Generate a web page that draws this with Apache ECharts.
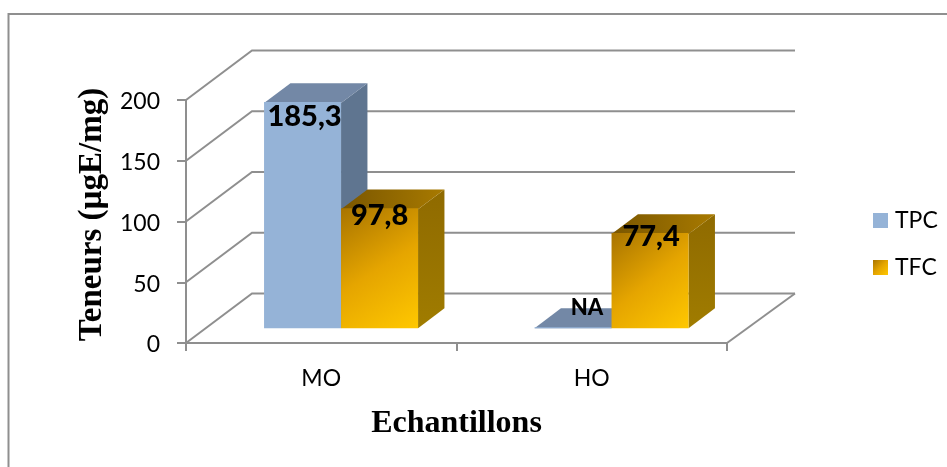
<!DOCTYPE html>
<html>
<head>
<meta charset="utf-8">
<title>Teneurs</title>
<script src="https://cdn.jsdelivr.net/npm/echarts@6/dist/echarts.min.js"></script>
<style>
html, body { margin: 0; padding: 0; background: #fff; }
#main { width: 947px; height: 467px; }
</style>
</head>
<body>
<div id="main"></div>
<script>
const categories = ['MO', 'HO'];
const tpcValues = [185.3, 0];
const tfcValues = [97.8, 77.4];
const tpcLabels = ['185,3', 'NA'];
const tfcLabels = ['97,8', '77,4'];
const yTicks = [0, 50, 100, 150, 200];

// depth of the fake 3d box, in pixels
const DEPTH_X = 66;
const DEPTH_Y = 49.5;
const WALL_COLOR = '#8f8f8f';
const BAR_RATIO = 77 / 270.5;
// bars stand at this share of the floor depth, and are this share deep
const BAR_FRONT = 0.3;
const BAR_DEEP = 0.4;

function grad(x2, y2, stops) {
	return new echarts.graphic.LinearGradient(0, 0, x2, y2, stops.map(function (c, i) {
		return { offset: i / (stops.length - 1), color: c };
	}));
}

const tfcFront = ['#a87400', '#e5a500', '#ffc800'];
const tpcFaces = { front: '#95b3d7', top: '#7388a6', side: '#5f7590' };
const tfcFaces = {
	front: grad(1, 1, tfcFront),
	top: grad(1, 0, ['#7a5600', '#a87a00']),
	side: grad(0, 1, ['#8f6a00', '#a07c00'])
};

function renderWall(params, api) {
	const rect = params.coordSys;
	const y = api.coord([0, api.value(0)])[1];
	const left = rect.x;
	const right = rect.x + rect.width;
	const points = [
		[left, y],
		[left + DEPTH_X, y - DEPTH_Y],
		[right + DEPTH_X + 2, y - DEPTH_Y]
	];
	const children = [{
		type: 'polyline',
		shape: { points: points },
		style: { stroke: WALL_COLOR, lineWidth: 2, fill: null }
	}];
	if (api.value(0) === 0) {
		children.push({
			type: 'line',
			shape: { x1: right, y1: y, x2: right + DEPTH_X + 2, y2: y - DEPTH_Y },
			style: { stroke: WALL_COLOR, lineWidth: 2 }
		});
	}
	return { type: 'group', children: children };
}

function makeBarRenderer(order, faces, labels, labelNudge, labelFont) {
	return function (params, api) {
		const cat = api.value(0);
		const band = api.size([1, 0])[0];
		const barW = band * BAR_RATIO;
		const top = api.coord([cat, api.value(1)]);
		const base = api.coord([cat, 0]);
		const sx = DEPTH_X * BAR_FRONT;
		const sy = DEPTH_Y * BAR_FRONT;
		const dx = DEPTH_X * BAR_DEEP;
		const dy = DEPTH_Y * BAR_DEEP;
		const x0 = base[0] + sx + (order - 1) * barW;
		const x1 = x0 + barW;
		const yT = top[1] - sy;
		const yB = base[1] - sy;
		return {
			type: 'group',
			children: [
				{
					type: 'polygon',
					shape: { points: [[x1, yT], [x1 + dx, yT - dy], [x1 + dx, yB - dy], [x1, yB]] },
					style: { fill: faces.side }
				},
				{
					type: 'polygon',
					shape: { points: [[x0, yT], [x0 + dx, yT - dy], [x1 + dx, yT - dy], [x1, yT]] },
					style: { fill: faces.top }
				},
				{
					type: 'rect',
					shape: { x: x0, y: yT - 1, width: barW, height: yB - yT + 1 },
					style: { fill: faces.front }
				},
				{
					type: 'text',
					style: {
						text: labels[cat],
						x: (x0 + x1) / 2 + labelNudge[cat][0],
						y: yT + labelNudge[cat][1],
						fill: '#000',
						font: labelFont[cat],
						align: 'center',
						verticalAlign: 'middle'
					}
				}
			]
		};
	};
}

const BIG = '900 29px Lato';
const SMALL = '900 22px Lato';

const option = {
	animation: false,
	backgroundColor: '#fff',
	textStyle: { fontFamily: 'Lato' },
	grid: { left: 186, right: 220, top: 100, bottom: 124 },
	legend: {
		left: 868,
		top: 204,
		orient: 'vertical',
		icon: 'rect',
		itemWidth: 15,
		itemHeight: 15,
		itemGap: 24,
		selectedMode: false,
		textStyle: { fontFamily: 'Lato', fontSize: 23, color: '#000', padding: [0, 0, 0, 2] },
		data: ['TPC', 'TFC']
	},
	graphic: [{
		type: 'rect',
		silent: true,
		shape: { x: 8.5, y: 14, width: 1000, height: 600 },
		style: { fill: null, stroke: '#8f8f8f', lineWidth: 2 }
	}],
	xAxis: {
		type: 'category',
		data: categories,
		name: 'Echantillons',
		nameLocation: 'middle',
		nameGap: 65,
		nameTextStyle: { fontFamily: 'Liberation Serif', fontWeight: 'bold', fontSize: 32, color: '#000' },
		axisLine: { lineStyle: { color: WALL_COLOR, width: 2 } },
		axisTick: { show: true, length: 8, lineStyle: { color: WALL_COLOR, width: 2 } },
		axisLabel: { color: '#000', fontFamily: 'Lato', fontSize: 23, margin: 24 }
	},
	yAxis: {
		type: 'value',
		min: 0,
		max: 200,
		interval: 50,
		name: 'Teneurs (µgE/mg)',
		nameLocation: 'middle',
		nameGap: 77,
		nameRotate: 90,
		nameTextStyle: { fontFamily: 'Liberation Serif', fontWeight: 'bold', fontSize: 33, color: '#000', padding: [0, 0, 0, 14] },
		axisLine: { show: true, lineStyle: { color: WALL_COLOR, width: 2 } },
		axisTick: { show: true, length: 9, lineStyle: { color: WALL_COLOR, width: 2 } },
		axisLabel: {
			color: '#000',
			margin: 26,
			formatter: '{t|{value}}',
			rich: { t: { fontFamily: 'Lato', fontSize: 23, color: '#000', padding: [4, 0, 0, 0] } }
		},
		splitLine: { show: false }
	},
	series: [
		{
			type: 'custom',
			name: 'walls',
			silent: true,
			renderItem: renderWall,
			encode: { y: 0 },
			data: yTicks.map(function (t) { return [t]; })
		},
		{
			type: 'custom',
			name: 'TPC',
			itemStyle: { color: '#95b3d7' },
			renderItem: makeBarRenderer(0, tpcFaces, tpcLabels, [[2, 14], [14, -20]], [BIG, SMALL]),
			encode: { x: 0, y: 1 },
			data: tpcValues.map(function (v, i) { return [i, v]; })
		},
		{
			type: 'custom',
			name: 'TFC',
			itemStyle: { color: grad(1, 1, tfcFront) },
			renderItem: makeBarRenderer(1, tfcFaces, tfcLabels, [[0, 6], [1, 3]], [BIG, BIG]),
			encode: { x: 0, y: 1 },
			data: tfcValues.map(function (v, i) { return [i, v]; })
		}
	]
};

const myChart = echarts.init(document.getElementById('main'));
myChart.setOption(option);
</script>
</body>
</html>
